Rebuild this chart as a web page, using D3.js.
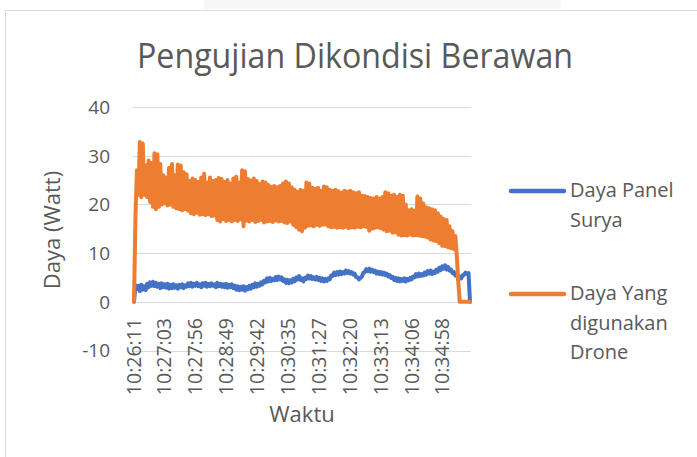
<!DOCTYPE html>
<html>
<head>
<meta charset="utf-8">
<script src="https://cdn.jsdelivr.net/npm/d3@7"></script>
<style>
  body { margin: 0; background: #fff; }
  text { font-family: "Open Sans", "DejaVu Sans", sans-serif; fill: #595959; }
</style>
</head>
<body>
<div id="chart"></div>
<script>
// seconds between two samples
var STEP = 2.5;

var timeLabels = ["10:26:11", "10:27:03", "10:27:56", "10:28:49", "10:29:42", "10:30:35",
  "10:31:27", "10:32:20", "10:33:13", "10:34:06", "10:34:58"];

var yTicks = [-10, 0, 10, 20, 30, 40];

var seriesNames = ["Daya Panel Surya", "Daya Yang digunakan Drone"];

// Daya Panel Surya (Watt)
var dayaPanel = [
  0, 3.4, 2.6, 3.3, 2.2, 3.5, 2.5, 3.2, 2.4, 3.7,
  3.0, 4.0, 3.3, 4.1, 3.2, 3.9, 3.1, 3.7, 2.8, 3.8,
  3.0, 3.6, 2.9, 3.7, 2.7, 3.5, 2.8, 3.6, 2.9, 3.4,
  2.7, 3.5, 3.0, 3.6, 2.8, 3.4, 3.1, 3.8, 3.2, 3.9,
  3.1, 3.7, 3.3, 3.9, 3.2, 3.6, 3.0, 3.8, 3.3, 3.9,
  3.1, 3.7, 3.2, 3.8, 3.3, 3.6, 3.0, 3.9, 3.2, 3.7,
  3.1, 3.6, 3.0, 3.7, 2.9, 3.5, 3.0, 3.6, 2.8, 3.3,
  2.5, 3.2, 2.4, 3.1, 2.5, 3.2, 2.3, 3.0, 2.6, 3.3,
  2.7, 3.5, 3.0, 3.8, 3.1, 3.7, 3.3, 4.0, 3.6, 4.3,
  4.0, 4.8, 4.2, 4.9, 4.3, 4.7, 4.4, 5.1, 4.5, 5.2,
  4.6, 5.0, 4.3, 4.6, 3.9, 4.5, 3.8, 4.4, 4.0, 4.7,
  4.2, 5.0, 4.6, 5.3, 4.5, 4.8, 4.2, 4.9, 4.7, 5.4,
  4.8, 5.3, 4.7, 5.0, 4.6, 5.1, 4.5, 4.9, 4.3, 4.8,
  4.2, 4.7, 4.3, 4.8, 4.6, 5.4, 5.3, 6.0, 5.5, 6.1,
  5.6, 6.2, 5.7, 6.1, 5.8, 6.4, 5.9, 6.3, 5.8, 6.1,
  5.6, 5.8, 5.1, 5.0, 4.6, 4.9, 5.2, 6.0, 6.1, 6.7,
  6.3, 6.8, 6.2, 6.6, 6.1, 6.4, 5.8, 6.2, 5.7, 6.1,
  5.6, 6.0, 5.5, 5.8, 5.2, 5.5, 4.9, 5.1, 4.5, 4.9,
  4.3, 4.8, 4.2, 4.7, 4.3, 4.8, 4.2, 4.7, 4.4, 4.9,
  4.6, 5.2, 5.0, 5.7, 5.2, 5.8, 5.3, 5.7, 5.4, 6.0,
  5.6, 6.3, 5.8, 6.4, 5.7, 6.2, 5.9, 6.6, 6.2, 7.0,
  6.5, 7.3, 6.8, 7.5, 6.6, 7.2, 6.4, 6.6, 5.9, 6.1,
  5.4, 5.6, 4.6, 5.2, 4.8, 5.4, 5.6, 6.0, 5.7, 5.9,
  0
];

// Daya Yang digunakan Drone (Watt)
var dayaDrone = [
  0, 17.5, 27, 22, 32.8, 21.5, 32.5, 22, 28, 21.5,
  29, 20.5, 28.5, 19.5, 30.5, 19, 30.3, 19.5, 28.3, 20,
  26, 20.2, 25.5, 19.8, 27.5, 20, 28.3, 19.5, 26, 19.2,
  28.2, 19, 28, 18.8, 26.6, 19, 26.2, 18.7, 24.8, 18.2,
  25.3, 18, 25, 18.3, 24.6, 17.9, 25.5, 18, 26.3, 17.8,
  24.5, 18, 25.5, 17.6, 24.8, 17.7, 25, 16.8, 25.4, 16.5,
  25.2, 17, 24.6, 16.6, 25, 16.8, 24.3, 16.5, 25.3, 16.8,
  25.7, 16.6, 24.5, 16.9, 27, 15.5, 26.8, 16.7, 25.2, 16.5,
  24.9, 16.8, 25.3, 16.4, 24.8, 16.6, 24.2, 16.8, 24.7, 16.3,
  24.5, 16.5, 24, 16.6, 23.6, 16.4, 23.8, 16.7, 23.5, 16.5,
  23.8, 16.6, 24.3, 16.3, 24.7, 16.2, 24.3, 16.5, 23.5, 15.8,
  23, 15.3, 22.6, 14.8, 23, 14.5, 22.8, 15.2, 24.5, 15.6,
  24.3, 15.7, 23.4, 15.5, 23.2, 15.8, 23.4, 15.6, 22.8, 15.8,
  23.7, 15.9, 23.5, 15.5, 23, 15.3, 22.8, 15.4, 23, 15.2,
  22.7, 15.3, 22.4, 15.2, 22.8, 15.4, 22.6, 15.1, 22.8, 15.3,
  22.5, 15.2, 22.3, 15.4, 22.5, 15.3, 21.8, 15.5, 21.7, 15.4,
  21.5, 14.6, 21.3, 15, 21.2, 15.2, 21.5, 15.3, 21.2, 15.1,
  21.5, 14.8, 22.5, 14.5, 22.3, 14.6, 21.8, 14.2, 22, 14.3,
  21.5, 13.8, 22, 13.6, 21.8, 13.7, 20, 13.6, 18.8, 13.8,
  19, 13.6, 18.7, 13.7, 21.6, 13.6, 21.2, 13.5, 20.2, 13.4,
  19.4, 13.2, 19.2, 12.8, 19, 12.6, 18.8, 12.5, 18.2, 12,
  17.5, 11.5, 17, 11.4, 16.8, 11.2, 15.5, 11, 14.5, 10.8,
  13.5, 9.3, 4, 0, 0, 0, 0, 0, 0, 0,
  0
];

var colors = ["#4472C4", "#ED7D31"];

var width = 697, height = 457;

var svg = d3.select('#chart')
  .append('svg')
  .attr('width', width)
  .attr('height', height);

// chart area frame
svg.append('rect')
  .attr('x', 204).attr('y', 0)
  .attr('width', 357).attr('height', 9)
  .attr('fill', '#f7f7f7');
svg.append('path')
  .attr('d', 'M5.5,' + height + 'V10.5H' + width)
  .attr('fill', 'none')
  .attr('stroke', '#d9d9d9')
  .attr('stroke-width', 1);

var x = d3.scaleLinear()
  .domain([0, dayaDrone.length - 1])
  .range([134, 470]);

var y = d3.scaleLinear()
  .domain([-10, 40])
  .range([350.5, 107]);

// horizontal gridlines
svg.append('g')
  .selectAll('line')
  .data(yTicks)
  .enter()
  .append('line')
  .attr('x1', 133)
  .attr('x2', 471)
  .attr('y1', function (d) { return Math.round(y(d)) + 0.5; })
  .attr('y2', function (d) { return Math.round(y(d)) + 0.5; })
  .attr('stroke', '#d9d9d9')
  .attr('stroke-width', 1);

// y tick labels
svg.append('g')
  .selectAll('text')
  .data(yTicks)
  .enter()
  .append('text')
  .attr('x', 110)
  .attr('y', function (d) { return y(d); })
  .attr('dy', '0.36em')
  .attr('text-anchor', 'end')
  .style('font-size', '19px')
  .text(function (d) { return d; });

// x tick labels: position from the clock time of each label
function secs(t) {
  var p = t.split(':').map(Number);
  return p[0] * 3600 + p[1] * 60 + p[2];
}
var t0 = secs(timeLabels[0]);

svg.append('g')
  .selectAll('text')
  .data(timeLabels)
  .enter()
  .append('text')
  .attr('transform', function (d) {
    return 'translate(' + x((secs(d) - t0) / STEP) + ',318) rotate(-90)';
  })
  .attr('dy', '0.36em')
  .attr('text-anchor', 'end')
  .style('font-size', '19.5px')
  .text(function (d) { return d; });

// axis titles
svg.append('text')
  .attr('transform', 'translate(52,230) rotate(-90)')
  .attr('dy', '0.36em')
  .attr('text-anchor', 'middle')
  .style('font-size', '22px')
  .text('Daya (Watt)');

svg.append('text')
  .attr('x', 302)
  .attr('y', 422)
  .attr('text-anchor', 'middle')
  .style('font-size', '22px')
  .text('Waktu');

// chart title
svg.append('text')
  .attr('x', 355)
  .attr('y', 68)
  .attr('text-anchor', 'middle')
  .attr('textLength', 436)
  .attr('lengthAdjust', 'spacingAndGlyphs')
  .style('font-size', '34px')
  .text('Pengujian Dikondisi Berawan');

// the two series
var line = d3.line()
  .x(function (d, i) { return x(i); })
  .y(function (d) { return y(d); });

svg.append('g')
  .selectAll('path')
  .data([dayaPanel, dayaDrone])
  .enter()
  .append('path')
  .attr('d', line)
  .attr('fill', 'none')
  .attr('stroke', function (d, i) { return colors[i]; })
  .attr('stroke-width', 4)
  .attr('stroke-linejoin', 'round')
  .attr('stroke-linecap', 'round');

// legend
var legendRows = [["Daya Panel", "Surya"], ["Daya Yang", "digunakan", "Drone"]];
var legendY = [191, 294];

var legend = svg.append('g')
  .selectAll('g')
  .data(seriesNames)
  .enter()
  .append('g');

legend.append('line')
  .attr('x1', 511)
  .attr('x2', 564)
  .attr('y1', function (d, i) { return legendY[i]; })
  .attr('y2', function (d, i) { return legendY[i]; })
  .attr('stroke', function (d, i) { return colors[i]; })
  .attr('stroke-width', 4.5)
  .attr('stroke-linecap', 'round');

legend.each(function (d, i) {
  var t = d3.select(this).append('text')
    .attr('x', 570)
    .attr('y', legendY[i] + 6)
    .style('font-size', '20px');
  legendRows[i].forEach(function (r, k) {
    t.append('tspan')
      .attr('x', 570)
      .attr('dy', k === 0 ? 0 : 29.5)
      .text(r);
  });
});
</script>
</body>
</html>
